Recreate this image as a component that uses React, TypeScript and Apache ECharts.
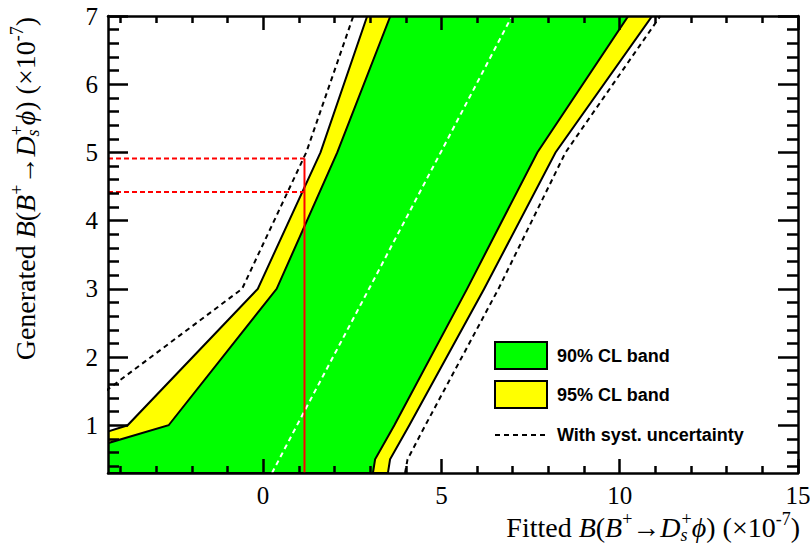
import React, { useEffect, useRef } from "react";
import * as echarts from "echarts";

// Generated branching fraction points (x10^-7) at which the belt is evaluated
const generated = [0.3, 0.5, 1, 3, 5, 7];
// Fitted-value boundaries of the confidence belt at each generated value
const band95Low = [-8.0, -6.8, -3.8, -0.15, 1.61, 2.92];
const band90Low = [-7.0, -5.9, -2.65, 0.38, 2.08, 3.57];
const band90High = [3.08, 3.14, 3.68, 5.72, 7.69, 10.24];
const band95High = [3.5, 3.56, 4.1, 6.2, 8.2, 10.91];
const systLow = [-7.4, -6.9, -5.7, -0.59, 1.21, 2.53];
const systHigh = [3.98, 4.05, 4.55, 6.6, 8.48, 11.14];
const median = [0.25, 0.45, 0.95, 2.97, 4.98, 6.98];

// Measured value and resulting upper limits
const fittedValue = 1.16;
const limitStat = 4.42;
const limitSyst = 4.91;

// Axis ranges and ticks
const xRange = [-4.35, 15];
const yRange = [0.3, 7];
const xMajorTicks = [0, 5, 10, 15];
const xMinorTicks = [-4, -3, -2, -1, 1, 2, 3, 4, 6, 7, 8, 9, 11, 12, 13, 14];
const yMajorTicks = [1, 2, 3, 4, 5, 6, 7];
const yMinorTicks = [
  0.4, 0.6, 0.8, 1.2, 1.4, 1.6, 1.8, 2.2, 2.4, 2.6, 2.8, 3.2, 3.4, 3.6, 3.8,
  4.2, 4.4, 4.6, 4.8, 5.2, 5.4, 5.6, 5.8, 6.2, 6.4, 6.6, 6.8,
];

// Legend entries
const legendLabels = ["90% CL band", "95% CL band", "With syst. uncertainty"];

const pairs = (xs: number[], ys: number[]) => xs.map((x, i) => [x, ys[i]]);

export default function App() {
  const ref = useRef<HTMLDivElement>(null);

  useEffect(() => {
    const chart = echarts.init(ref.current!, null, { renderer: "svg" });
    const serif = "'Liberation Serif', 'Times New Roman', serif";
    const sans = "'Liberation Sans', Arial, Helvetica, sans-serif";
    const green = "#00ff00";
    const yellow = "#ffff00";

    const bandSeries = (low: number[], high: number[], fill: string, name: string) => ({
      type: "custom",
      name,
      coordinateSystem: "cartesian2d",
      xAxisIndex: 0,
      yAxisIndex: 0,
      clip: true,
      silent: true,
      data: pairs(low, generated),
      renderItem: (params: any, api: any) => {
        if (params.dataIndex !== 0) return null;
        const pts: number[][] = [];
        generated.forEach((y, i) => pts.push(api.coord([low[i], y])));
        for (let i = generated.length - 1; i >= 0; i--) {
          pts.push(api.coord([high[i], generated[i]]));
        }
        return {
          type: "polygon",
          shape: { points: pts },
          style: { fill, stroke: "#000", lineWidth: 2, lineJoin: "miter" },
        };
      },
    });

    const lineSeries = (name: string, data: number[][], color: string, type: any, width = 2) => ({
      type: "line",
      name,
      data,
      symbol: "none",
      silent: true,
      clip: true,
      xAxisIndex: 0,
      yAxisIndex: 0,
      lineStyle: { color, width, type },
    });

    const axisLineOn = { show: true, onZero: false, lineStyle: { color: "#000", width: 2.5 } };
    const axisLineOff = { show: false, onZero: false };
    const tickStyle = { color: "#000", width: 2.5 };

    const xAxisBase = {
      type: "value",
      gridIndex: 0,
      min: xRange[0],
      max: xRange[1],
      splitLine: { show: false },
      z: 10,
    };
    const yAxisBase = {
      type: "value",
      gridIndex: 0,
      min: yRange[0],
      max: yRange[1],
      splitLine: { show: false },
      z: 10,
    };

    const titleRich: any = {
      n: { fontFamily: serif, fontSize: 28, lineHeight: 34, fill: "#000", align: "left" },
      i: { fontFamily: serif, fontSize: 28, lineHeight: 34, fontStyle: "italic", fill: "#000", align: "left" },
      sup: { fontFamily: serif, fontSize: 18, lineHeight: 12, verticalAlign: "top", fill: "#000", align: "left" },
      sub: { fontFamily: serif, fontSize: 18, lineHeight: 10, verticalAlign: "bottom", fontStyle: "italic", fill: "#000", align: "left", width: 1 },
    };
    const decay = "{i|B}{n|(}{i|B}{sup|+}{n|→}{i|D}{sub|s}{sup|+}{i|ϕ}{n|) (×10}{sup|-7}{n|)}";

    chart.setOption({
      animation: false,
      backgroundColor: "#fff",
      grid: { left: 108, right: 12, top: 16, bottom: 72, containLabel: false, outerBoundsMode: "none" },
      xAxis: [
        {
          ...xAxisBase,
          position: "bottom",
          axisLine: axisLineOn,
          axisTick: { show: true, inside: true, length: 14, lineStyle: tickStyle, customValues: xMajorTicks },
          axisLabel: {
            show: true,
            customValues: xMajorTicks,
            fontFamily: serif,
            fontSize: 25,
            color: "#000",
            margin: 10,
          },
        },
        {
          ...xAxisBase,
          position: "bottom",
          axisLine: axisLineOff,
          axisTick: { show: true, inside: true, length: 7, lineStyle: tickStyle, customValues: xMinorTicks },
          axisLabel: { show: false },
        },
        {
          ...xAxisBase,
          position: "top",
          axisLine: axisLineOn,
          axisTick: { show: true, inside: true, length: 14, lineStyle: tickStyle, customValues: xMajorTicks },
          axisLabel: { show: false },
        },
        {
          ...xAxisBase,
          position: "top",
          axisLine: axisLineOff,
          axisTick: { show: true, inside: true, length: 7, lineStyle: tickStyle, customValues: xMinorTicks },
          axisLabel: { show: false },
        },
      ],
      yAxis: [
        {
          ...yAxisBase,
          position: "left",
          axisLine: axisLineOn,
          axisTick: { show: true, inside: true, length: 20, lineStyle: tickStyle, customValues: yMajorTicks },
          axisLabel: {
            show: true,
            customValues: yMajorTicks,
            fontFamily: serif,
            fontSize: 25,
            color: "#000",
            margin: 10,
          },
        },
        {
          ...yAxisBase,
          position: "left",
          axisLine: axisLineOff,
          axisTick: { show: true, inside: true, length: 11, lineStyle: tickStyle, customValues: yMinorTicks },
          axisLabel: { show: false },
        },
        {
          ...yAxisBase,
          position: "right",
          axisLine: axisLineOn,
          axisTick: { show: true, inside: true, length: 20, lineStyle: tickStyle, customValues: yMajorTicks },
          axisLabel: { show: false },
        },
        {
          ...yAxisBase,
          position: "right",
          axisLine: axisLineOff,
          axisTick: { show: true, inside: true, length: 11, lineStyle: tickStyle, customValues: yMinorTicks },
          axisLabel: { show: false },
        },
      ],
      series: [
        bandSeries(band95Low, band95High, yellow, "95% CL band"),
        bandSeries(band90Low, band90High, green, "90% CL band"),
        lineSeries("Median", pairs(median, generated), "#fff", [5, 4]),
        lineSeries("Syst low", pairs(systLow, generated), "#000", [5, 4]),
        lineSeries("Syst high", pairs(systHigh, generated), "#000", [5, 4]),
        lineSeries("Fitted", [[fittedValue, yRange[0]], [fittedValue, limitSyst]], "#ff0000", "solid"),
        lineSeries("Limit syst", [[xRange[0], limitSyst], [fittedValue, limitSyst]], "#ff0000", [5, 3]),
        lineSeries("Limit stat", [[xRange[0], limitStat], [fittedValue, limitStat]], "#ff0000", [5, 3]),
      ],
      graphic: [
        {
          type: "text",
          right: 10,
          top: 510,
          style: {
            text: "{n|Fitted }" + decay,
            rich: titleRich,
            textAlign: "left",
          },
        },
        {
          type: "text",
          x: 25,
          y: 17,
          rotation: Math.PI / 2,
          style: {
            text: "{n|Generated }" + decay,
            rich: titleRich,
            x: 0,
            y: 0,
            align: "right",
            textAlign: "right",
            verticalAlign: "middle",
            textVerticalAlign: "middle",
          },
        },
        {
          type: "rect",
          shape: { x: 495, y: 342, width: 52, height: 27 },
          style: { fill: green, stroke: "#000", lineWidth: 2 },
        },
        {
          type: "rect",
          shape: { x: 495, y: 381, width: 52, height: 27 },
          style: { fill: yellow, stroke: "#000", lineWidth: 2 },
        },
        {
          type: "line",
          shape: { x1: 495, y1: 435, x2: 546, y2: 435 },
          style: { stroke: "#000", lineWidth: 2, lineDash: [5, 4] },
        },
        {
          type: "text",
          x: 557,
          y: 356,
          style: { text: legendLabels[0], font: `bold 18px ${sans}`, fill: "#000", verticalAlign: "middle", textVerticalAlign: "middle" },
        },
        {
          type: "text",
          x: 557,
          y: 395,
          style: { text: legendLabels[1], font: `bold 18px ${sans}`, fill: "#000", verticalAlign: "middle", textVerticalAlign: "middle" },
        },
        {
          type: "text",
          x: 557,
          y: 435,
          style: { text: legendLabels[2], font: `bold 18px ${sans}`, fill: "#000", verticalAlign: "middle", textVerticalAlign: "middle" },
        },
      ],
    } as any);

    return () => chart.dispose();
  }, []);

  return (
    <div
      ref={ref}
      style={{ position: "absolute", left: 0, top: 0, width: 810, height: 545, background: "#fff" }}
    />
  );
}
